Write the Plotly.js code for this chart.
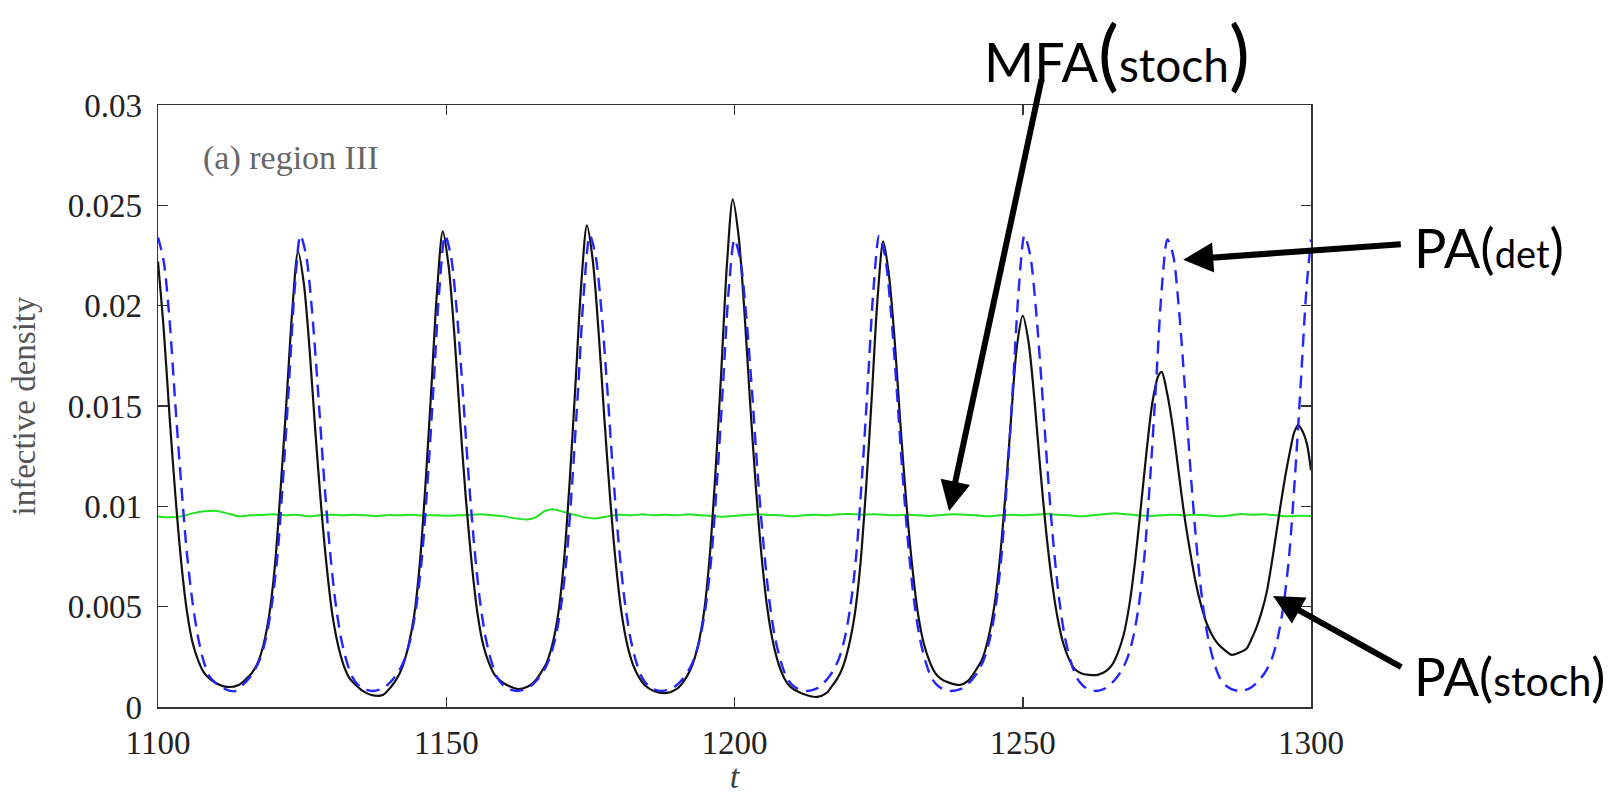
<!DOCTYPE html>
<html>
<head>
<meta charset="utf-8">
<script src="https://cdn.plot.ly/plotly-3.0.1.min.js"></script>
<style>
  html, body { margin: 0; padding: 0; background: #ffffff; }
  #chart { width: 1620px; height: 795px; }
</style>
</head>
<body>
<div id="chart"></div>
<script>
// ---- data ----
// PA (stoch): black solid line
const tPA = [
  1100, 1101, 1102, 1103, 1104, 1105, 1106, 1107, 1108, 1109, 1110, 1112, 1114,
  1115.3, 1116.3, 1117.3, 1118.3, 1119.3, 1120.3, 1121.3, 1122.3, 1123.3, 1124.3, 1125.3, 1126.3, 1127.3, 1128.3, 1129.3, 1130.3, 1131.3, 1132.3, 1133.3, 1134.3, 1135.5, 1137, 1139,
  1140.4, 1141.4, 1142.4, 1143.4, 1144.4, 1145.4, 1146.4, 1147.4, 1148.4, 1149.4, 1150.4, 1151.4, 1152.4, 1153.4, 1154.4, 1155.4, 1156.4, 1157.4, 1158.4, 1159.4, 1160.5, 1162.3, 1164,
  1165.4, 1166.4, 1167.4, 1168.4, 1169.4, 1170.4, 1171.4, 1172.4, 1173.4, 1174.4, 1175.4, 1176.4, 1177.4, 1178.4, 1179.4, 1180.4, 1181.4, 1182.4, 1183.4, 1184.4, 1186, 1188.3, 1190,
  1190.7, 1191.7, 1192.7, 1193.7, 1194.7, 1195.7, 1196.7, 1197.7, 1198.7, 1199.7, 1200.7, 1201.7, 1202.7, 1203.7, 1204.7, 1205.7, 1206.7, 1207.7, 1208.7, 1209.7, 1211.5, 1214.3, 1216,
  1216.8, 1217.8, 1218.8, 1219.8, 1220.8, 1221.8, 1222.8, 1223.8, 1224.8, 1225.8, 1226.8, 1227.8, 1228.8, 1229.8, 1230.8, 1231.8, 1232.8, 1233.8, 1234.8, 1235.8, 1237.3, 1239.1, 1240.5,
  1242, 1243, 1244, 1245, 1246, 1247, 1248, 1249, 1250, 1251, 1252, 1253, 1254, 1255, 1256, 1257, 1258, 1259, 1260, 1261.5, 1263, 1264.5,
  1265.5, 1266.5, 1267.5, 1268.5, 1269.5, 1270.5, 1271.5, 1272.5, 1273.5, 1274.1, 1275, 1276, 1277, 1278, 1279, 1280, 1281, 1282, 1283, 1284, 1285.2, 1286.2, 1287.5,
  1288.8, 1289.7, 1290.6, 1291.5, 1292.3, 1293.2, 1294, 1294.8, 1295.6, 1296.4, 1297.1, 1297.8, 1298.6, 1299.3, 1300
];
const yPA = [
  0.0222, 0.0188, 0.0145, 0.0106, 0.0073, 0.0048, 0.0032, 0.0023, 0.0017, 0.0014, 0.0012, 0.0010, 0.0011,
  0.0014, 0.0017, 0.0022, 0.0031, 0.0046, 0.0071, 0.0110, 0.0153, 0.0198, 0.0227, 0.0211, 0.0178, 0.0137, 0.0100, 0.0069, 0.0045, 0.0030, 0.0020, 0.0014, 0.0011, 0.0008, 0.0006, 0.0006,
  0.0010, 0.0014, 0.0020, 0.0030, 0.0045, 0.0071, 0.0111, 0.0158, 0.0207, 0.0237, 0.0220, 0.0186, 0.0143, 0.0104, 0.0072, 0.0047, 0.0031, 0.0022, 0.0016, 0.0013, 0.0011, 0.0009, 0.0010,
  0.0013, 0.0017, 0.0022, 0.0031, 0.0046, 0.0072, 0.0112, 0.0160, 0.0210, 0.0240, 0.0223, 0.0188, 0.0145, 0.0105, 0.0072, 0.0047, 0.0031, 0.0021, 0.0015, 0.0011, 0.0008, 0.0007, 0.0009,
  0.0011, 0.0015, 0.0021, 0.0031, 0.0047, 0.0075, 0.0117, 0.0167, 0.0221, 0.0253, 0.0235, 0.0198, 0.0152, 0.0110, 0.0075, 0.0049, 0.0032, 0.0021, 0.0014, 0.0010, 0.0007, 0.0005, 0.0007,
  0.0010, 0.0014, 0.0020, 0.0030, 0.0045, 0.0070, 0.0108, 0.0154, 0.0203, 0.0232, 0.0215, 0.0182, 0.0140, 0.0102, 0.0071, 0.0047, 0.0032, 0.0023, 0.0017, 0.0014, 0.0012, 0.0011, 0.0013,
  0.0019, 0.0024, 0.0034, 0.0049, 0.0073, 0.0106, 0.0145, 0.0180, 0.0195, 0.0182, 0.0154, 0.0120, 0.0089, 0.0064, 0.0045, 0.0032, 0.0024, 0.0019, 0.0017, 0.0016, 0.0016, 0.0018,
  0.0021, 0.0027, 0.0036, 0.0051, 0.0073, 0.0100, 0.0128, 0.0152, 0.0165, 0.0167, 0.0157, 0.0140, 0.0118, 0.0096, 0.0078, 0.0062, 0.0050, 0.0041, 0.0035, 0.0031, 0.0028, 0.0026, 0.0027,
  0.0029, 0.0034, 0.0040, 0.0048, 0.0057, 0.0072, 0.0087, 0.0102, 0.0116, 0.0128, 0.0137, 0.01405, 0.0137, 0.0131, 0.0118
];

// PA (det): blue dashed line
const tDet = [
  1100, 1101, 1102, 1103, 1104, 1105, 1106, 1107, 1108, 1109, 1110, 1111, 1112.5, 1113.5,
  1114.7, 1115.7, 1116.7, 1117.7, 1118.7, 1119.7, 1120.7, 1121.7, 1122.7, 1123.7, 1124.7, 1125.7, 1126.7, 1127.7, 1128.7, 1129.7, 1130.7, 1131.7, 1132.7, 1133.7, 1134.7, 1135.7, 1137.2,
  1138.8, 1139.8, 1140.8, 1141.8, 1142.8, 1143.8, 1144.8, 1145.8, 1146.8, 1147.8, 1148.8, 1149.8, 1150.8, 1151.8, 1152.8, 1153.8, 1154.8, 1155.8, 1156.8, 1157.8, 1158.8, 1159.8, 1160.8, 1162.3,
  1163.9, 1164.9, 1165.9, 1166.9, 1167.9, 1168.9, 1169.9, 1170.9, 1171.9, 1172.9, 1173.9, 1174.9, 1175.9, 1176.9, 1177.9, 1178.9, 1179.9, 1180.9, 1181.9, 1182.9, 1183.9, 1184.9, 1185.9, 1187.4,
  1189, 1190, 1191, 1192, 1193, 1194, 1195, 1196, 1197, 1198, 1199, 1200, 1201, 1202, 1203, 1204, 1205, 1206, 1207, 1208, 1209, 1210, 1211, 1212.5,
  1214.1, 1215.1, 1216.1, 1217.1, 1218.1, 1219.1, 1220.1, 1221.1, 1222.1, 1223.1, 1224.1, 1225.1, 1226.1, 1227.1, 1228.1, 1229.1, 1230.1, 1231.1, 1232.1, 1233.1, 1234.1, 1235.1, 1236.1, 1237.6,
  1239.3, 1240.3, 1241.3, 1242.3, 1243.3, 1244.3, 1245.3, 1246.3, 1247.3, 1248.3, 1249.3, 1250.3, 1251.3, 1252.3, 1253.3, 1254.3, 1255.3, 1256.3, 1257.3, 1258.3, 1259.3, 1260.3, 1261.3, 1262.8,
  1264.1, 1265.1, 1266.1, 1267.1, 1268.1, 1269.1, 1270.1, 1271.1, 1272.1, 1273.1, 1274.1, 1275.1, 1276.1, 1277.1, 1278.1, 1279.1, 1280.1, 1281.1, 1282.1, 1283.1, 1284.1, 1285.1, 1286.1, 1287.6,
  1289.2, 1290.2, 1291.2, 1292.2, 1293.2, 1294.2, 1295.2, 1296.2, 1297.2, 1298.2, 1299.2, 1300
];
const yDet = [
  0.0234, 0.0222, 0.0193, 0.0151, 0.0112, 0.0077, 0.0052, 0.0034, 0.0022, 0.0015, 0.0012, 0.0010, 0.0008, 0.0008,
  0.0011, 0.0014, 0.0018, 0.0024, 0.0034, 0.0050, 0.0075, 0.0114, 0.0160, 0.0208, 0.0235, 0.0225, 0.0198, 0.0160, 0.0118, 0.0082, 0.0054, 0.0035, 0.0023, 0.0015, 0.0011, 0.0009, 0.0008,
  0.0009, 0.0011, 0.0014, 0.0018, 0.0024, 0.0034, 0.0050, 0.0075, 0.0114, 0.0160, 0.0208, 0.0235, 0.0225, 0.0198, 0.0160, 0.0118, 0.0082, 0.0054, 0.0035, 0.0023, 0.0015, 0.0011, 0.0009, 0.0008,
  0.0009, 0.0011, 0.0014, 0.0018, 0.0024, 0.0034, 0.0050, 0.0075, 0.0114, 0.0160, 0.0208, 0.0235, 0.0225, 0.0198, 0.0160, 0.0118, 0.0082, 0.0054, 0.0035, 0.0023, 0.0015, 0.0011, 0.0009, 0.0008,
  0.0009, 0.0011, 0.0014, 0.0018, 0.0024, 0.0034, 0.0050, 0.0075, 0.0114, 0.0160, 0.0208, 0.0233, 0.0223, 0.0196, 0.0159, 0.0117, 0.0082, 0.0054, 0.0035, 0.0023, 0.0015, 0.0011, 0.0009, 0.0008,
  0.0009, 0.0011, 0.0014, 0.0018, 0.0024, 0.0034, 0.0050, 0.0075, 0.0114, 0.0160, 0.0208, 0.0235, 0.0225, 0.0198, 0.0160, 0.0118, 0.0082, 0.0054, 0.0035, 0.0023, 0.0015, 0.0011, 0.0009, 0.0008,
  0.0009, 0.0011, 0.0014, 0.0018, 0.0024, 0.0034, 0.0050, 0.0075, 0.0114, 0.0160, 0.0208, 0.0235, 0.0225, 0.0198, 0.0160, 0.0118, 0.0082, 0.0054, 0.0035, 0.0023, 0.0015, 0.0011, 0.0009, 0.0008,
  0.0009, 0.0011, 0.0014, 0.0018, 0.0024, 0.0034, 0.0050, 0.0075, 0.0114, 0.0160, 0.0208, 0.0233, 0.0225, 0.0198, 0.0160, 0.0118, 0.0082, 0.0054, 0.0035, 0.0023, 0.0015, 0.0011, 0.0009, 0.0008,
  0.0009, 0.0011, 0.0014, 0.0018, 0.0024, 0.0034, 0.0050, 0.0075, 0.0114, 0.0160, 0.0208, 0.0233
];

// MFA (stoch): green line
const tMFA = [
  1100, 1102, 1104, 1106, 1108, 1110, 1112, 1114, 1116, 1118, 1120, 1122, 1124, 1126, 1128, 1130,
  1132, 1134, 1136, 1138, 1140, 1142, 1144, 1146, 1148, 1150, 1152, 1154, 1156, 1158, 1160, 1162,
  1164, 1165.5, 1167, 1168.5, 1170, 1172, 1174, 1176, 1178, 1180, 1182, 1184, 1186, 1188, 1190,
  1192, 1194, 1196, 1198, 1200, 1202, 1204, 1206, 1208, 1210, 1212, 1214, 1216, 1218, 1220, 1222,
  1224, 1226, 1228, 1230, 1232, 1234, 1236, 1238, 1240, 1242, 1244, 1246, 1248, 1250, 1252, 1254,
  1256, 1258, 1260, 1262, 1264, 1266, 1268, 1270, 1272, 1274, 1276, 1278, 1280, 1282, 1284, 1286,
  1288, 1290, 1292, 1294, 1296, 1298, 1300
];
const yMFA = [
  0.00950, 0.00945, 0.00950, 0.00965, 0.00975, 0.00978, 0.00965, 0.00950, 0.00955, 0.00957, 0.00960, 0.00955, 0.00958, 0.00950, 0.00955, 0.00958,
  0.00955, 0.00958, 0.00955, 0.00952, 0.00957, 0.00955, 0.00958, 0.00954, 0.00956, 0.00953, 0.00955, 0.00957, 0.00960, 0.00955, 0.00950, 0.00940,
  0.00935, 0.00945, 0.00975, 0.00985, 0.00975, 0.00960, 0.00945, 0.00940, 0.00950, 0.00958, 0.00955, 0.00960, 0.00955, 0.00958, 0.00955,
  0.00960, 0.00956, 0.00952, 0.00948, 0.00952, 0.00957, 0.00960, 0.00957, 0.00955, 0.00950, 0.00955, 0.00958, 0.00955, 0.00960, 0.00962, 0.00958,
  0.00960, 0.00958, 0.00955, 0.00958, 0.00955, 0.00952, 0.00957, 0.00960, 0.00958, 0.00955, 0.00950, 0.00955, 0.00958, 0.00955, 0.00958, 0.00962,
  0.00958, 0.00955, 0.00950, 0.00955, 0.00960, 0.00965, 0.00960, 0.00955, 0.00952, 0.00955, 0.00958, 0.00956, 0.00958, 0.00955, 0.00950, 0.00955,
  0.00962, 0.00958, 0.00960, 0.00955, 0.00950, 0.00953, 0.00952
];

// axis ticks
const xTickVals = [1100, 1150, 1200, 1250, 1300];
const xTickText = ['1100', '1150', '1200', '1250', '1300'];
const yTickVals = [0, 0.005, 0.01, 0.015, 0.02, 0.025, 0.03];
const yTickText = ['0', '0.005', '0.01', '0.015', '0.02', '0.025', '0.03'];

// ---- figure ----
const serif = 'Liberation Serif, DejaVu Serif, serif';
const sans = 'Lato, Open Sans, sans-serif';

const traces = [
  { x: tMFA, y: yMFA, type: 'scatter', mode: 'lines', name: 'MFA (stoch)',
    line: { color: '#22e322', width: 2, shape: 'spline', smoothing: 0.6 } },
  { x: tPA, y: yPA, type: 'scatter', mode: 'lines', name: 'PA (stoch)',
    line: { color: '#111111', width: 2.2, shape: 'spline', smoothing: 0.8 } },
  { x: tDet, y: yDet, type: 'scatter', mode: 'lines', name: 'PA (det)',
    line: { color: '#2424ff', width: 2.4, dash: '13px,8px', shape: 'spline', smoothing: 0.8 } }
];

const axisCommon = {
  showgrid: false, zeroline: false, showline: true, linecolor: '#333', linewidth: 1.5,
  mirror: 'ticks', ticks: 'inside', ticklen: 10, tickwidth: 1.5, tickcolor: '#333',
  tickfont: { family: serif, size: 33, color: '#222' }
};

const layout = {
  width: 1620, height: 795,
  margin: { l: 158, r: 309, t: 105, b: 88 },
  paper_bgcolor: '#ffffff', plot_bgcolor: '#ffffff',
  showlegend: false,
  xaxis: Object.assign({}, axisCommon, {
    range: [1100, 1300], tickvals: xTickVals, ticktext: xTickText,
    ticklabelstandoff: 6,
    title: { text: '<i>t</i>', font: { family: serif, size: 34, color: '#444' }, standoff: 10 }
  }),
  yaxis: Object.assign({}, axisCommon, {
    range: [0, 0.03], tickvals: yTickVals, ticktext: yTickText,
    ticklabelstandoff: 8,
    title: { text: 'infective density', font: { family: serif, size: 33, color: '#555' }, standoff: 22 }
  }),
  annotations: [
    { xref: 'paper', yref: 'paper', x: 0.037, y: 0.912, xanchor: 'left', yanchor: 'middle',
      text: '(a) region III', showarrow: false, font: { family: serif, size: 34, color: '#666' } },
    { xref: 'paper', yref: 'paper', x: 0.7147, y: 1.088, xanchor: 'left', yanchor: 'middle', showarrow: false,
      text: '<span style="font-size:54px">MFA</span><span style="font-size:78px">(</span><span style="font-size:46px">stoch</span><span style="font-size:78px">)</span>',
      font: { family: sans, size: 54, color: '#000' } },
    { xref: 'paper', yref: 'paper', x: 1.0876, y: 0.7625, xanchor: 'left', yanchor: 'middle', showarrow: false,
      text: '<span style="font-size:54px">PA(</span><span style="font-size:38px">det</span><span style="font-size:54px">)</span>',
      font: { family: sans, size: 54, color: '#000' } },
    { xref: 'paper', yref: 'paper', x: 1.0876, y: 0.0515, xanchor: 'left', yanchor: 'middle', showarrow: false,
      text: '<span style="font-size:53px">PA(</span><span style="font-size:41px">stoch</span><span style="font-size:53px">)</span>',
      font: { family: sans, size: 53, color: '#000' } },
    // arrows (tip at data point, tail offset in pixels)
    { xref: 'x', yref: 'y', x: 1237.0, y: 0.00947, ax: 94, ay: -439, text: '', showarrow: true,
      arrowhead: 2, arrowwidth: 6, arrowsize: 1, arrowcolor: '#000', standoff: 6 },
    { xref: 'x', yref: 'y', x: 1276.8, y: 0.02227, ax: 225, ay: -16, text: '', showarrow: true,
      arrowhead: 2, arrowwidth: 6, arrowsize: 1, arrowcolor: '#000', standoff: 6 },
    { xref: 'x', yref: 'y', x: 1292.5, y: 0.00568, ax: 135, ay: 75, text: '', showarrow: true,
      arrowhead: 2, arrowwidth: 6, arrowsize: 1, arrowcolor: '#000', standoff: 6 }
  ]
};

Plotly.newPlot('chart', traces, layout, { displayModeBar: false, staticPlot: true });
</script>
</body>
</html>
